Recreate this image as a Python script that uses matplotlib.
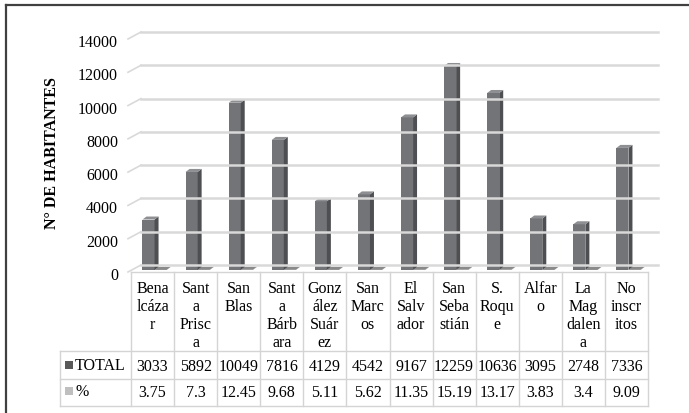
import matplotlib.pyplot as plt
from matplotlib.patches import Rectangle, Polygon
from matplotlib.lines import Line2D

# barrios y valores
barrios = ['Bena\nlcáza\nr', 'Sant\na\nPrisc\na', 'San\nBlas', 'Sant\na\nBárb\nara',
           'Gonz\nález\nSuár\nez', 'San\nMarc\nos', 'El\nSalv\nador', 'San\nSeba\nstián',
           'S.\nRoqu\ne', 'Alfar\no', 'La\nMag\ndalen\na', 'No\ninscr\nitos']
total = [3033, 5892, 10049, 7816, 4129, 4542, 9167, 12259, 10636, 3095, 2748, 7336]
pct = [3.75, 7.3, 12.45, 9.68, 5.11, 5.62, 11.35, 15.19, 13.17, 3.83, 3.4, 9.09]
yticks = [0, 2000, 4000, 6000, 8000, 10000, 12000, 14000]

plt.rcParams['font.family'] = ['Liberation Serif', 'DejaVu Serif']
fs = 11.5

W, H = 689, 414
fig = plt.figure(figsize=(W / 100, H / 100), dpi=100)

# plot area in pixels: x -0.5..11.5 -> 131..648, y 0..14000 -> 273..40
x_left, x_right, y_floor, y_top = 131, 648, 273, 40
ax = fig.add_axes([x_left / W, 1 - y_floor / H,
                   (x_right - x_left) / W, (y_floor - y_top) / H])
n = len(total)
ax.set_xlim(-0.5, n - 0.5)
ax.set_ylim(0, 14000)
ax.axis('off')

XU = n / (x_right - x_left)        # data units per pixel (x)
YU = 14000 / (y_floor - y_top)     # data units per pixel (y)


def yy(py):
    return (y_floor - py) * YU


def xx(px):
    return -0.5 + (px - x_left) * XU


grid_c = '#d9d9d9'
wall_dx, wall_dy = 10 * XU, 7 * YU

# back wall gridlines with the slanted side edge
for v in yticks:
    ax.add_line(Line2D([-0.5 + wall_dx, n - 0.5 + wall_dx], [v + wall_dy, v + wall_dy],
                       color=grid_c, lw=1.8, clip_on=False))
    ax.add_line(Line2D([xx(128), -0.5 + wall_dx], [v, v + wall_dy],
                       color=grid_c, lw=1.2, clip_on=False))
    ax.text(xx(118), v - 3 * YU, str(v), ha='right', va='center', fontsize=fs)


def bar3d(x0, width, v, front, side, top):
    bx, by = 2 * XU, 2 * YU
    dx, dy = 4 * XU, 3 * YU
    x0 += bx
    x1 = x0 + width
    ax.add_patch(Rectangle((x0, by), width, v, fc=front, ec='none', clip_on=False))
    ax.add_patch(Polygon([(x1, by), (x1 + dx, by + dy), (x1 + dx, by + dy + v), (x1, by + v)],
                         closed=True, fc=side, ec='none', clip_on=False))
    ax.add_patch(Polygon([(x0, by + v), (x1, by + v), (x1 + dx, by + v + dy), (x0 + dx, by + v + dy)],
                         closed=True, fc=top, ec='none', clip_on=False))


bw = 0.28
for i in range(n):
    bar3d(i, bw, pct[i], '#6b6b6b', '#5a5a5a', '#8a8a8a')
    bar3d(i - bw, bw, total[i], '#737477', '#4e4f52', '#8e8f92')

# data table
tc = '#d4d4d4'
rows = [273, 352, 380, 407]
lab_left = 60
for i in range(n + 1):
    ax.add_line(Line2D([i - 0.5, i - 0.5], [yy(rows[0]), yy(rows[3])],
                       color=tc, lw=1, clip_on=False))
ax.add_line(Line2D([xx(lab_left), xx(lab_left)], [yy(rows[1]), yy(rows[3])],
                   color=tc, lw=1, clip_on=False))
ax.add_line(Line2D([-0.5, n - 0.5], [yy(rows[0]), yy(rows[0])], color=tc, lw=1, clip_on=False))
for r in rows[1:]:
    ax.add_line(Line2D([xx(lab_left), n - 0.5], [yy(r), yy(r)], color=tc, lw=1, clip_on=False))

for i in range(n):
    ax.text(i, yy(281), barrios[i], ha='center', va='top', fontsize=fs, linespacing=1.17)
    ax.text(i, yy(367), str(total[i]), ha='center', va='center', fontsize=fs)
    ax.text(i, yy(393), str(pct[i]), ha='center', va='center', fontsize=fs)

for label, col, cy in [('TOTAL', '#595959', 366), ('%', '#bfbfbf', 392)]:
    ax.add_patch(Rectangle((xx(65), yy(cy + 4)), 8 * XU, 8 * YU, fc=col, ec='none', clip_on=False))
    ax.text(xx(75), yy(cy), label, ha='left', va='center', fontsize=fs)

ax.text(xx(52), 7000 + 3 * YU, 'N° DE HABITANTES', rotation=90, ha='center', va='center',
        fontsize=fs, fontweight='bold')

# chart border
fig.add_artist(Line2D([6 / W, 6 / W], [0, 1 - 6 / H], color='#404040', lw=1.6))
fig.add_artist(Line2D([6 / W, 1], [1 - 6 / H, 1 - 6 / H], color='#404040', lw=1.6))

fig.savefig('out.png', dpi=100)
